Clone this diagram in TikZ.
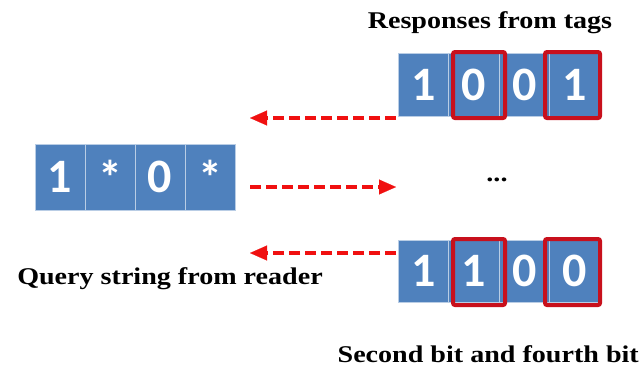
\documentclass[tikz,border=0pt]{standalone}
\usepackage{fontspec}
\newfontfamily\lblfont[FakeStretch=1.17]{Liberation Serif}
\newfontfamily\cellfont{Carlito}
\usetikzlibrary{arrows.meta}
\definecolor{cellblue}{HTML}{4F81BD}
\definecolor{seplight}{HTML}{B9CDE5}
\definecolor{boxred}{HTML}{C8101C}
\definecolor{arrred}{HTML}{F01010}
\begin{document}
\begin{tikzpicture}[x=1pt,y=-1pt,
  cell/.style={fill=cellblue, draw=seplight, line width=0.8pt, minimum width=50.5pt, inner sep=0pt, text=white, font=\cellfont\bfseries\fontsize{48}{48}\selectfont},
  toprow/.style={cell, minimum height=63pt},
  botrow/.style={cell, minimum height=62pt},
  leftrow/.style={cell, minimum width=50pt, minimum height=66pt},
  redbox/.style={draw=boxred, line width=4pt, rounded corners=2pt, inner sep=0pt, minimum width=52pt, minimum height=66pt},
  lbl/.style={font=\lblfont\bfseries\fontsize{24}{24}\selectfont, text=black, inner sep=0pt, anchor=base},
  arr/.style={draw=arrred, line width=4pt, dash pattern=on 11pt off 5pt, -{Triangle[length=17pt,width=15pt,line width=0.1pt]}}
]
\useasboundingbox (0,0) rectangle (642,373);

% top row
\node[toprow] (t1) at (423.25,84.5) {1};
\node[toprow] (t2) at (473.75,84.5) {0};
\node[toprow] (t3) at (524.25,84.5) {0};
\node[toprow] (t4) at (574.75,84.5) {1};
\node[redbox] (rt2) at (479,85) {};
\node[redbox, minimum width=55pt] (rt4) at (572.5,85) {};

% left row
\node[leftrow] (l1) at (60,177) {1};
\node[leftrow] (l2) at (110,177) {*};
\node[leftrow] (l3) at (160,177) {0};
\node[leftrow] (l4) at (210,177) {*};

% bottom row
\node[botrow] (b1) at (423.25,271) {1};
\node[botrow] (b2) at (473.75,271) {1};
\node[botrow] (b3) at (524.25,271) {0};
\node[botrow] (b4) at (574.75,271) {0};
\node[redbox] (rb2) at (479,272) {};
\node[redbox, minimum width=55pt] (rb4) at (572.5,272) {};

% dots
\node[lbl] (dots) at (497,181) {...};

% arrows
\coordinate (a1s) at (396,118);
\coordinate (a1e) at (250,118);
\coordinate (a2s) at (250,187);
\coordinate (a2e) at (396,187);
\coordinate (a3s) at (396,253);
\coordinate (a3e) at (250,253);
\draw[arr] (a1s) -- (a1e);
\draw[arr] (a2s) -- (a2e);
\draw[arr] (a3s) -- (a3e);

% labels
\node[lbl] (resp) at (490,28) {Responses from tags};
\node[lbl] (query) at (170,284) {Query string from reader};
\node[lbl, anchor=base east] (second) at (639,362) {Second bit and fourth bit};
\end{tikzpicture}
\end{document}
